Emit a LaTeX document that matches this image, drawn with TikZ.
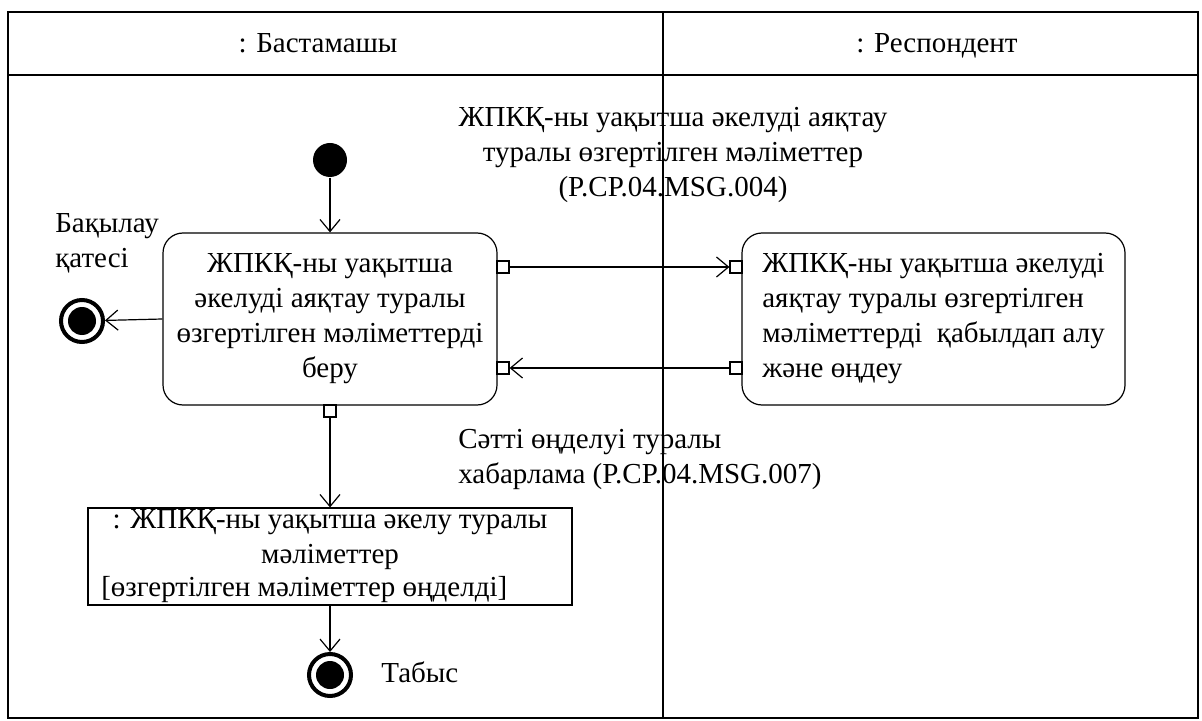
\documentclass[tikz,border=0pt]{standalone}
\usepackage{fontspec}
\setmainfont{Liberation Serif}
\newfontfamily\kzserif{Liberation Serif}
\usetikzlibrary{arrows.meta}

\begin{document}
\begin{tikzpicture}[x=0.5pt, y=-0.5pt, semithick,
    every node/.style={font=\kzserif\fontsize{14.5}{17.5}\selectfont},
    action/.style={draw, rounded corners=10pt, minimum height=86pt, inner sep=0pt},
    pinbox/.style={draw, fill=white, minimum size=6pt, inner sep=0pt},
    flow/.style={-{Straight Barb[length=6pt, width=10pt]}},
    startnode/.style={circle, fill=black, minimum size=17pt, inner sep=0pt},
    endnode/.style={circle, draw, line width=2pt, minimum size=21pt, inner sep=0pt}]

    \useasboundingbox (0,0) rectangle (1202,721);

    % Marco y carriles
    \draw (8,12) rectangle (1198,718);
    \draw (8,75) -- (1198,75);
    \draw (663,12) -- (663,718);
    \node[anchor=base] (laneA) at (318,53) {: Бастамашы};
    \node[anchor=base] (laneB) at (937,53) {: Респондент};

    % Acciones
    \node[action, minimum width=167pt, align=center] (send) at (330,319)
        {ЖПКҚ-ны уақытша\\ әкелуді аяқтау туралы\\ өзгертілген мәліметтерді\\ беру};
    \node[action, minimum width=191.5pt, align=left] (recv) at (933.5,319)
        {ЖПКҚ-ны уақытша әкелуді\\ аяқтау туралы өзгертілген\\ мәліметтерді \ қабылдап алу\\ және өңдеу};

    % Pines
    \node[pinbox] (outA) at (503,267) {};
    \node[pinbox] (inA) at (503,368) {};
    \node[pinbox] (outC) at (330,411) {};
    \node[pinbox] (inB) at (736,267) {};
    \node[pinbox] (outB) at (736,368) {};

    % Inicio y finales
    \node[startnode] (start) at (330,160) {};
    \node[endnode] (fail) at (82,321) {};
    \fill (fail) circle (7pt);
    \node[endnode] (done) at (330,675) {};
    \fill (done) circle (7pt);
    \node[anchor=west, align=left] (failtxt) at (48,243) {Бақылау\\ қатесі};
    \node[anchor=west] (donetxt) at (374,672) {Табыс};

    % Objeto
    \node[draw, minimum width=242pt, minimum height=48.5pt] (obj) at (330,556.5) {};
    \node[align=center] (objname) at (330,540) {: ЖПКҚ-ны уақытша әкелу туралы\\ мәліметтер};
    \node[anchor=west] (objstate) at (94,590) {[өзгертілген мәліметтер өңделді]};

    % Flujos
    \draw[flow] (start) -- (send);
    \draw[flow] (send.west) -- (fail);
    \draw[flow] (outA) -- (inB);
    \draw[flow] (outB) -- (inA);
    \draw[flow] (outC) -- (obj);
    \draw[flow] (obj) -- (done);

    % Mensajes
    \node[align=center] (msgA) at (673,155)
        {ЖПКҚ-ны уақытша әкелуді аяқтау\\ туралы өзгертілген мәліметтер\\ (P.CP.04.MSG.004)};
    \node[anchor=west, align=left] (msgB) at (451,459)
        {Сәтті өңделуі туралы\\ хабарлама (P.CP.04.MSG.007)};
\end{tikzpicture}
\end{document}
